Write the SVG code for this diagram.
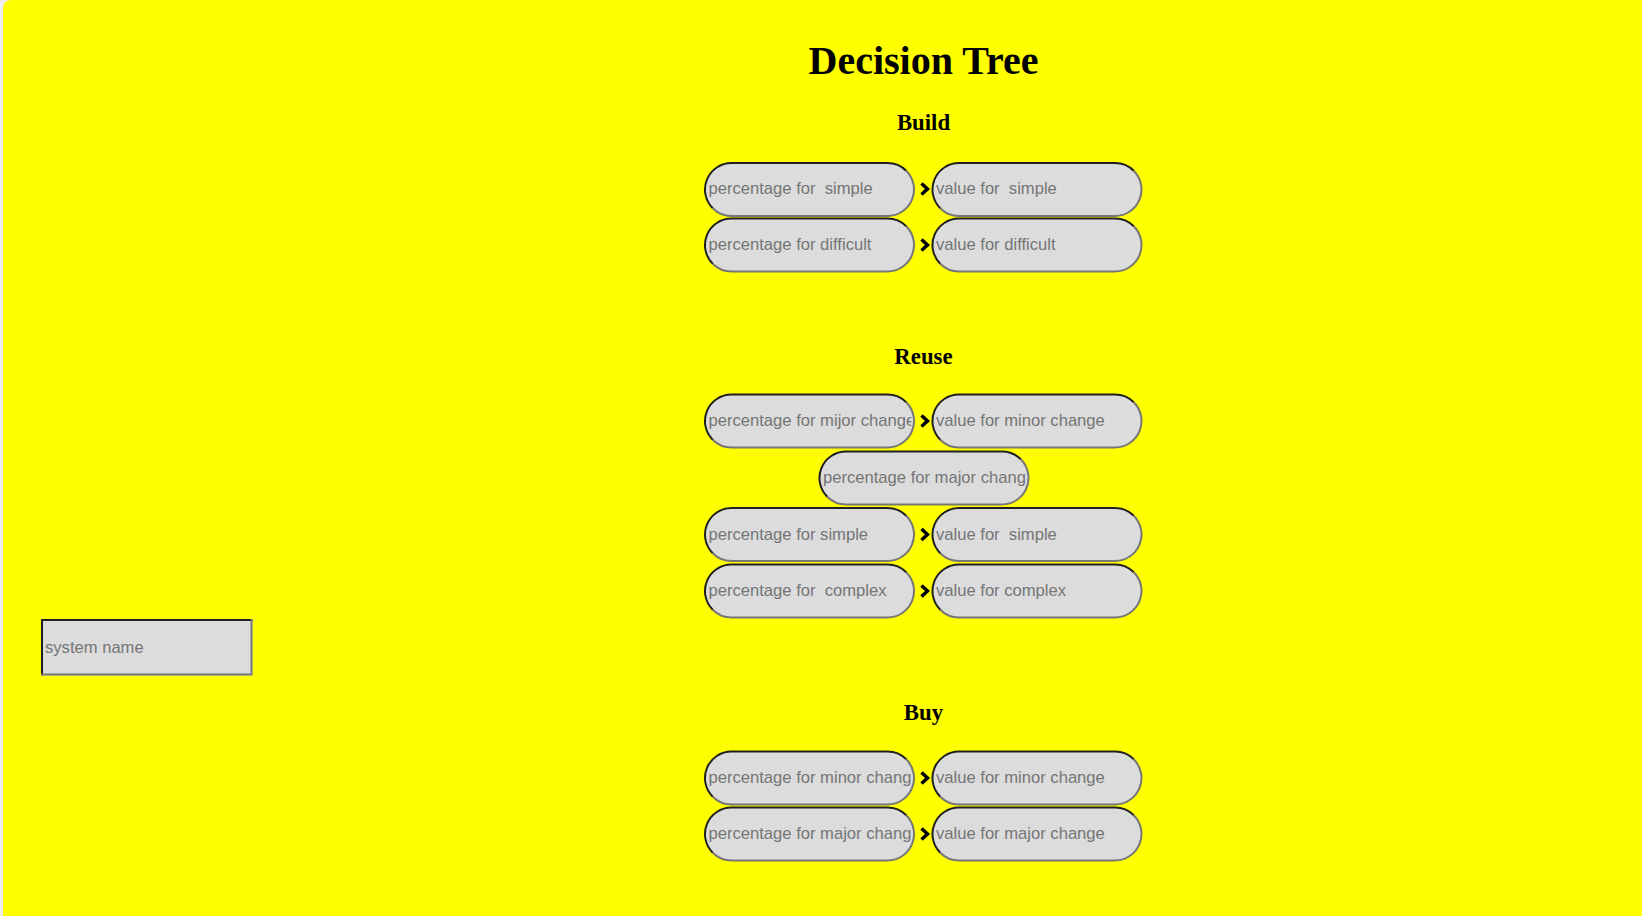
<svg xmlns="http://www.w3.org/2000/svg" xmlns:xlink="http://www.w3.org/1999/xlink" width="1642" height="916" viewBox="0 0 1642 916">
<style>
.head{font-family:"Liberation Serif","Times New Roman",serif;font-weight:bold;fill:#000;text-anchor:middle}
.ph{font-family:"Liberation Sans",Arial,sans-serif;font-size:16.6px;fill:#757575}
.chev{fill:none;stroke:#000;stroke-width:3.4;stroke-linejoin:miter}
</style>
<defs>
<g id="pill">
<rect x="1" y="1" width="209" height="53" rx="26.5" ry="26.5" fill="#dcdcdc"/>
<path d="M8.76,46.24 A26.5,26.5 0 0 1 27.5,1 L183.5,1 A26.5,26.5 0 0 1 202.24,8.76" fill="none" stroke="#202020" stroke-width="2"/>
<path d="M202.24,8.76 A26.5,26.5 0 0 1 183.5,54 L27.5,54 A26.5,26.5 0 0 1 8.76,46.24" fill="none" stroke="#767676" stroke-width="2"/>
</g>
<clipPath id="pclip" clipPathUnits="userSpaceOnUse"><rect x="3" y="2" width="204.5" height="51"/></clipPath>
</defs>
<rect x="0" y="0" width="1642" height="916" fill="#eeeef2"/>
<path d="M3,8 A8,8 0 0 1 11,0 H1642 V916 H3 Z" fill="#ffff00"/>

<g id="titles">
<text class="head" x="923.5" y="74" font-size="40">Decision Tree</text>
<text class="head" x="923.5" y="130" font-size="22.8">Build</text>
<text class="head" x="923.5" y="364" font-size="22.8">Reuse</text>
<text class="head" x="923.5" y="719.5" font-size="22.8">Buy</text>
</g>

<g id="system-name">
<rect x="41" y="619" width="211.5" height="56.5" fill="#dcdcdc"/>
<path d="M42,675.5 V620 H252.5" fill="none" stroke="#202020" stroke-width="2"/>
<path d="M251.5,619 V674.5 H41" fill="none" stroke="#767676" stroke-width="2"/>
<text class="ph" x="45" y="652.7">system name</text>
</g>

<g id="build-pct-simple" transform="translate(704,162)"><use xlink:href="#pill"/><text class="ph" x="4.5" y="32" clip-path="url(#pclip)" xml:space="preserve">percentage for  simple</text></g>
<g id="build-val-simple" transform="translate(931.5,162)"><use xlink:href="#pill"/><text class="ph" x="4.5" y="32" clip-path="url(#pclip)" xml:space="preserve">value for  simple</text></g>
<g id="build-pct-difficult" transform="translate(704,217.5)"><use xlink:href="#pill"/><text class="ph" x="4.5" y="32" clip-path="url(#pclip)">percentage for difficult</text></g>
<g id="build-val-difficult" transform="translate(931.5,217.5)"><use xlink:href="#pill"/><text class="ph" x="4.5" y="32" clip-path="url(#pclip)">value for difficult</text></g>

<g id="reuse-pct-mijor" transform="translate(704,393.5)"><use xlink:href="#pill"/><text class="ph" x="4.5" y="32.5" clip-path="url(#pclip)">percentage for mijor change</text></g>
<g id="reuse-val-minor" transform="translate(931.5,393.5)"><use xlink:href="#pill"/><text class="ph" x="4.5" y="32.5" clip-path="url(#pclip)">value for minor change</text></g>
<g id="reuse-pct-major" transform="translate(818.5,450.5)"><use xlink:href="#pill"/><text class="ph" x="4.5" y="32.5" clip-path="url(#pclip)">percentage for major change</text></g>
<g id="reuse-pct-simple" transform="translate(704,507)"><use xlink:href="#pill"/><text class="ph" x="4.5" y="32.5" clip-path="url(#pclip)">percentage for simple</text></g>
<g id="reuse-val-simple" transform="translate(931.5,507)"><use xlink:href="#pill"/><text class="ph" x="4.5" y="32.5" clip-path="url(#pclip)" xml:space="preserve">value for  simple</text></g>
<g id="reuse-pct-complex" transform="translate(704,563.5)"><use xlink:href="#pill"/><text class="ph" x="4.5" y="32.5" clip-path="url(#pclip)" xml:space="preserve">percentage for  complex</text></g>
<g id="reuse-val-complex" transform="translate(931.5,563.5)"><use xlink:href="#pill"/><text class="ph" x="4.5" y="32.5" clip-path="url(#pclip)">value for complex</text></g>

<g id="buy-pct-minor" transform="translate(704,750.5)"><use xlink:href="#pill"/><text class="ph" x="4.5" y="32.5" clip-path="url(#pclip)">percentage for minor change</text></g>
<g id="buy-val-minor" transform="translate(931.5,750.5)"><use xlink:href="#pill"/><text class="ph" x="4.5" y="32.5" clip-path="url(#pclip)">value for minor change</text></g>
<g id="buy-pct-major" transform="translate(704,806.5)"><use xlink:href="#pill"/><text class="ph" x="4.5" y="32.5" clip-path="url(#pclip)">percentage for major change</text></g>
<g id="buy-val-major" transform="translate(931.5,806.5)"><use xlink:href="#pill"/><text class="ph" x="4.5" y="32.5" clip-path="url(#pclip)">value for major change</text></g>

<g id="connectors">
<polyline class="chev" points="921.5,183.5 927.5,189 921.5,194.5"/>
<polyline class="chev" points="921.5,239.5 927.5,245 921.5,250.5"/>
<polyline class="chev" points="921.5,415.5 927.5,421 921.5,426.5"/>
<polyline class="chev" points="921.5,529 927.5,534.5 921.5,540"/>
<polyline class="chev" points="921.5,585.5 927.5,591 921.5,596.5"/>
<polyline class="chev" points="921.5,772.5 927.5,778 921.5,783.5"/>
<polyline class="chev" points="921.5,828.5 927.5,834 921.5,839.5"/>
</g>
</svg>
